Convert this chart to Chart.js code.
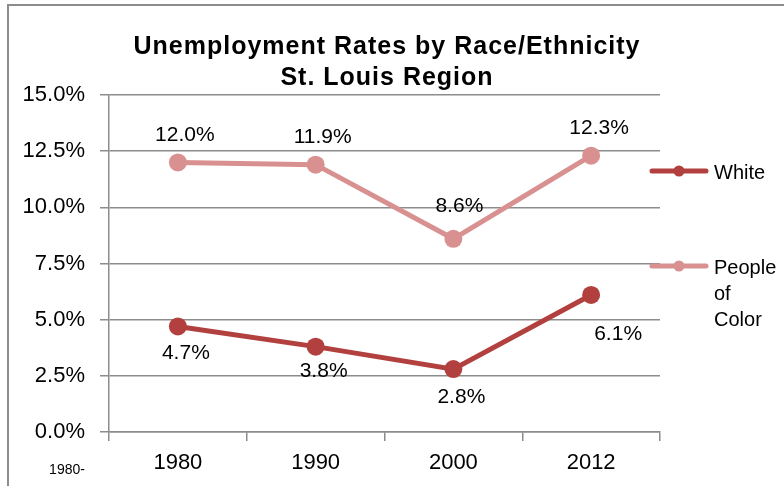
<!DOCTYPE html>
<html>
<head>
<meta charset="utf-8">
<script src="https://cdn.jsdelivr.net/npm/chart.js@4/dist/chart.umd.min.js"></script>
<style>
  html, body { margin: 0; padding: 0; background: #fff; }
  #wrap { width: 784px; height: 486px; position: relative; }
</style>
</head>
<body>
<div id="wrap"><canvas id="myChart" width="784" height="486"></canvas></div>
<script>
// data
const years = ['1980', '1990', '2000', '2012'];
const white = [4.7, 3.8, 2.8, 6.1];
const peopleOfColor = [12.0, 11.9, 8.6, 12.3];
const yTicks = [0, 2.5, 5, 7.5, 10, 12.5, 15];

const FONT = "'Liberation Sans', Arial, sans-serif";
const GRID = '#8c8c8c';
const RED = '#b2403e';
const PINK = '#d89190';

// label offsets relative to each point
const whiteOffsets = [[8, 27], [8, 25], [8, 28], [27, 39]];
const pocOffsets = [[7, -27], [7, -27], [6, -33], [8, -27]];

const decor = {
  id: 'decor',
  beforeDraw(chart) {
    const c = chart.ctx;
    c.save();
    c.strokeStyle = '#8c8c8c';
    c.lineWidth = 2;
    c.beginPath();
    c.moveTo(8, 486);
    c.lineTo(8, 5);
    c.lineTo(784, 5);
    c.stroke();
    c.restore();
  },
  afterDraw(chart) {
    const c = chart.ctx;
    c.save();
    // title
    c.fillStyle = '#000';
    c.textAlign = 'center';
    c.textBaseline = 'middle';
    c.font = 'bold 25px ' + FONT;
    c.letterSpacing = '1px';
    c.fillText('Unemployment Rates by Race/Ethnicity', 387, 47);
    c.fillText('St. Louis Region', 387, 78);
    c.letterSpacing = '0px';
    // stray label bottom-left
    c.font = '14px ' + FONT;
    c.fillText('1980-', 67, 470);
    // legend
    const items = [
      { color: RED, y: 171, lines: ['White'] },
      { color: PINK, y: 266, lines: ['People', 'of', 'Color'] }
    ];
    items.forEach(it => {
      c.strokeStyle = it.color;
      c.lineWidth = 5;
      c.lineCap = 'round';
      c.beginPath();
      c.moveTo(652, it.y);
      c.lineTo(706, it.y);
      c.stroke();
      c.fillStyle = it.color;
      c.beginPath();
      c.arc(679, it.y, 5.5, 0, Math.PI * 2);
      c.fill();
      c.fillStyle = '#000';
      c.textAlign = 'left';
      c.font = '20px ' + FONT;
      it.lines.forEach((t, i) => c.fillText(t, 714, it.y + 2 + i * 26));
    });
    c.restore();
  },
  afterDatasetsDraw(chart) {
    const c = chart.ctx;
    c.save();
    c.fillStyle = '#000';
    c.textAlign = 'center';
    c.textBaseline = 'middle';
    c.font = '21px ' + FONT;
    const offs = [whiteOffsets, pocOffsets];
    chart.data.datasets.forEach((ds, di) => {
      chart.getDatasetMeta(di).data.forEach((pt, i) => {
        const o = offs[di][i];
        c.fillText(ds.data[i].toFixed(1) + '%', pt.x + o[0], pt.y + o[1]);
      });
    });
    c.restore();
  }
};

new Chart(document.getElementById('myChart').getContext('2d'), {
  type: 'line',
  data: {
    labels: years,
    datasets: [
      {
        label: 'White',
        data: white,
        borderColor: RED,
        backgroundColor: RED,
        borderWidth: 5,
        pointRadius: 9,
        pointBorderWidth: 0,
        tension: 0
      },
      {
        label: 'People of Color',
        data: peopleOfColor,
        borderColor: PINK,
        backgroundColor: PINK,
        borderWidth: 5,
        pointRadius: 9,
        pointBorderWidth: 0,
        tension: 0
      }
    ]
  },
  options: {
    responsive: false,
    animation: false,
    layout: { padding: { top: 95, right: 124, left: 0, bottom: 0 } },
    plugins: {
      legend: { display: false },
      title: { display: false },
      tooltip: { enabled: false }
    },
    scales: {
      x: {
        offset: true,
        grid: {
          offset: true,
          drawOnChartArea: false,
          drawTicks: true,
          tickLength: 9,
          color: GRID,
          lineWidth: 1.5
        },
        border: { color: GRID, width: 1.5 },
        ticks: { color: '#000', font: { family: FONT, size: 22 }, padding: 9 },
        afterFit(s) { s.height = 54; }
      },
      y: {
        min: 0,
        max: 15,
        afterBuildTicks(s) { s.ticks = yTicks.map(v => ({ value: v })); },
        grid: { color: GRID, lineWidth: 1.5, tickLength: 9 },
        border: { color: GRID, width: 1.5 },
        ticks: {
          color: '#000',
          font: { family: FONT, size: 22 },
          padding: 15,
          callback: v => v.toFixed(1) + '%'
        },
        afterFit(s) { s.width = 109; }
      }
    }
  },
  plugins: [decor]
});
</script>
</body>
</html>
